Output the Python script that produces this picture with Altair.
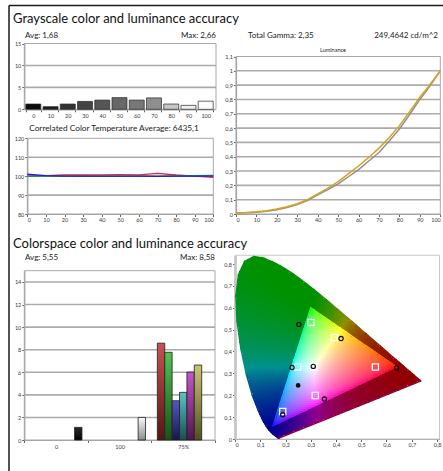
import altair as alt
import numpy as np
import pandas as pd

W, H = 443, 471
FONT = "Lato"
INK = "#222222"
GRID = "#ababab"
FRAME = "#a8a8a8"

# ---------------- Grayscale color and luminance accuracy ----------------
gray_levels = ["0", "10", "20", "30", "40", "50", "60", "70", "80", "90", "100"]
gray_delta_e = [1.2, 0.6, 1.2, 1.8, 2.1, 2.66, 2.1, 2.6, 1.2, 0.9, 1.85]
gray_shades = ["#0b0b0b", "#1e1e1e", "#323232", "#444444", "#555555", "#676767",
               "#787878", "#8e8e8e", "#c6c6c6", "#efefef", "#fbfbfb"]

cct_levels = [0, 10, 20, 30, 40, 50, 60, 70, 80, 90, 100]
cct_red = [100.0, 100.2, 100.6, 100.6, 100.7, 100.8, 100.7, 101.5, 100.6, 100.0, 99.4]
cct_green = [99.9, 100.0, 100.0, 99.9, 99.9, 99.9, 100.0, 99.9, 100.1, 100.2, 100.4]
cct_blue = [101.0, 100.3, 100.0, 100.0, 100.0, 100.0, 100.0, 99.9, 100.0, 100.0, 100.0]

lum_levels = [0, 5, 10, 15, 20, 25, 30, 35, 40, 45, 50, 55, 60, 65, 70, 75, 80, 85, 90, 95, 100]
lum_measured = [0.008, 0.010, 0.015, 0.022, 0.035, 0.050, 0.072, 0.100, 0.140, 0.180, 0.226,
                0.280, 0.335, 0.395, 0.460, 0.535, 0.617, 0.715, 0.815, 0.905, 1.000]
lum_target = [0.007, 0.008, 0.012, 0.019, 0.030, 0.045, 0.066, 0.094, 0.133, 0.170, 0.210,
              0.260, 0.310, 0.370, 0.430, 0.510, 0.594, 0.695, 0.800, 0.895, 1.000]

# ---------------- Colorspace color and luminance accuracy ----------------
cs_groups = ["0", "100", "75%"]
cs_series = ["Red", "Green", "Blue", "Cyan", "Magenta", "Yellow", "Neutral"]
cs_bar_group = ["0", "100", "75%", "75%", "75%", "75%", "75%", "75%"]
cs_bar_series = ["Neutral", "Neutral", "Red", "Green", "Blue", "Cyan", "Magenta", "Yellow"]
cs_bar_delta_e = [1.12, 2.0, 8.58, 7.77, 3.48, 4.22, 6.02, 6.64]
cs_bar_top = ["#2a2a2a", "#fafafa", "#c95252", "#52c452", "#5656c4", "#5cc4c4", "#c656cc", "#cac676"]
cs_bar_bottom = ["#000000", "#8c8c8c", "#551414", "#165216", "#16164f", "#165050", "#4f164f", "#50501c"]

# CIE 1931 2-degree spectral locus (x, y)
locus_x = [0.1741, 0.1733, 0.1726, 0.1714, 0.1689, 0.1644, 0.1566, 0.1510, 0.1440, 0.1355,
           0.1241, 0.1096, 0.0913, 0.0687, 0.0454, 0.0235, 0.0082, 0.0039, 0.0139, 0.0389,
           0.0743, 0.1142, 0.1547, 0.1929, 0.2296, 0.2658, 0.3016, 0.3373, 0.3731, 0.4087,
           0.4441, 0.4788, 0.5125, 0.5448, 0.5752, 0.6029, 0.6270, 0.6482, 0.6658, 0.6915,
           0.7079, 0.7190, 0.7260, 0.7300, 0.7334, 0.7347]
locus_y = [0.0050, 0.0048, 0.0048, 0.0051, 0.0069, 0.0109, 0.0177, 0.0227, 0.0297, 0.0399,
           0.0578, 0.0868, 0.1327, 0.2007, 0.2950, 0.4127, 0.5384, 0.6548, 0.7502, 0.8120,
           0.8338, 0.8262, 0.8059, 0.7816, 0.7543, 0.7243, 0.6923, 0.6589, 0.6245, 0.5896,
           0.5547, 0.5202, 0.4866, 0.4544, 0.4242, 0.3965, 0.3725, 0.3514, 0.3340, 0.3083,
           0.2920, 0.2809, 0.2740, 0.2700, 0.2666, 0.2653]

# sRGB gamut primaries (R, G, B) and D65 white
gamut_x = [0.64, 0.30, 0.15]
gamut_y = [0.33, 0.60, 0.06]
white_x, white_y = 0.3127, 0.3290

target_x = [0.301, 0.394, 0.248, 0.556, 0.318, 0.189, 0.3127]
target_y = [0.533, 0.464, 0.329, 0.329, 0.199, 0.126, 0.329]
measured_x = [0.253, 0.420, 0.226, 0.310, 0.640, 0.354, 0.189]
measured_y = [0.523, 0.459, 0.327, 0.332, 0.325, 0.183, 0.111]
white_point_x = [0.250]
white_point_y = [0.245]

# chromaticity plot geometry: pixels per unit of x and y
E_X0, E_KX = 235.0, 252.5
E_Y0, E_KY = 439.0, 218.75
E_XMAX, E_YMAX = 0.81, 0.84


# ---------------- chromaticity colour field ----------------
def inside_polygon(px, py, vx, vy):
    vx, vy = np.asarray(vx), np.asarray(vy)
    result = np.zeros(px.shape, dtype=bool)
    j = len(vx) - 1
    for i in range(len(vx)):
        crosses = (vy[i] > py) != (vy[j] > py)
        xint = (vx[j] - vx[i]) * (py - vy[i]) / (vy[j] - vy[i] + 1e-12) + vx[i]
        result ^= crosses & (px < xint)
        j = i
    return result


def chroma_colour(fx, fy):
    """Display colour of xy chromaticities: bright inside the sRGB gamut, dimmed outside."""
    fx, fy = np.asarray(fx, float), np.maximum(np.asarray(fy, float), 1e-4)
    X, Z = fx / fy, (1 - fx - fy) / fy
    rgb = np.stack([3.2406 * X - 1.5372 - 0.4986 * Z,
                    -0.9689 * X + 1.8758 + 0.0415 * Z,
                    0.0557 * X - 0.2040 + 1.0570 * Z], axis=1)
    outside = (rgb < -1e-6).any(axis=1)
    rgb = np.clip(rgb, 0, None)
    rgb = rgb / rgb.max(axis=1, keepdims=True)
    encoded = np.where(rgb <= 0.0031308, 12.92 * rgb, 1.055 * rgb ** (1 / 2.4) - 0.055)
    rgb = np.where(outside[:, None], rgb * 0.57, encoded)
    rgb8 = np.clip(np.round(rgb * 255), 0, 255).astype(int)
    return ["#%02x%02x%02x" % tuple(v) for v in rgb8]


def edge_segments(vx, vy, pieces, pull):
    """Split a closed outline into short segments, each coloured by the field just inside it."""
    vx, vy = list(vx) + list(vx[:1]), list(vy) + list(vy[:1])
    xs, ys = [], []
    for k in range(len(vx) - 1):
        t = np.linspace(0, 1, pieces + 1)
        xs.append(vx[k] + (vx[k + 1] - vx[k]) * t[:-1])
        ys.append(vy[k] + (vy[k + 1] - vy[k]) * t[:-1])
    xs, ys = np.concatenate(xs + [[vx[-1]]]), np.concatenate(ys + [[vy[-1]]])
    mx = (xs[:-1] + xs[1:]) / 2 * (1 - pull) + white_x * pull
    my = (ys[:-1] + ys[1:]) / 2 * (1 - pull) + white_y * pull
    return pd.DataFrame({"x": xs[:-1], "y": ys[:-1], "x2": xs[1:], "y2": ys[1:],
                         "c": chroma_colour(mx, my)})


# two-pixel cells aligned to the plot's pixel grid
DX, DY = 2 / E_KX, 2 / E_KY
gx, gy = np.meshgrid(np.arange(0, int(0.74 / DX) + 1) * DX, np.arange(0, int(0.84 / DY) + 1) * DY)
cx, cy = gx + DX / 2, gy + DY / 2
mask = inside_polygon(cx, cy, locus_x, locus_y)
field_df = pd.DataFrame({
    "x0": np.round(gx[mask], 6),
    "y0": np.round(gy[mask], 6),
    "c": chroma_colour(cx[mask], cy[mask]),
})
locus_edge_df = edge_segments(locus_x, locus_y, 1, 0.03)
gamut_edge_df = edge_segments(gamut_x, gamut_y, 40, 0.02)

# ---------------- helpers ----------------
AXIS_STYLE = dict(labelFont=FONT, labelFontSize=5.5, labelColor="#3a3a3a",
                  tickColor="#3a3a3a", tickSize=2.5, tickWidth=0.8,
                  domainColor="#a0a0a0", domainWidth=1.2, labelPadding=1,
                  labelAngle=0, grid=False, title="")
COMMA = "replace(datum.label, '.', ',')"


def bottom_axis(y_px, **kw):
    return alt.Axis(orient="bottom", offset=y_px - H, **{**AXIS_STYLE, **kw})


def left_axis(x_px, **kw):
    return alt.Axis(orient="left", offset=-x_px, **{**AXIS_STYLE, **kw})


def box_layer(xs, x_lo, x_hi, xa, ys, y_lo, y_hi, ya, grid_values,
              frame_color=FRAME, frame_width=1.0):
    """Plot frame plus horizontal grid rules, sharing the panel's scales and axes."""
    frame = alt.Chart(alt.Data(values=[{}])).mark_rect(
        fill="transparent", stroke=frame_color, strokeWidth=frame_width
    ).encode(
        x=alt.XDatum(x_lo, scale=xs, axis=xa), x2=alt.X2Datum(x_hi),
        y=alt.YDatum(y_lo, scale=ys, axis=ya), y2=alt.Y2Datum(y_hi),
    )
    if not grid_values:
        return frame
    grid = alt.Chart(pd.DataFrame({"g": grid_values})).mark_rule(
        color=GRID, strokeWidth=1.6
    ).encode(
        x=alt.XDatum(x_lo, scale=xs, axis=xa), x2=alt.X2Datum(x_hi),
        y=alt.Y("g:Q", scale=ys, axis=ya),
    )
    return alt.layer(grid, frame)


def label(text, x, y, size, align="left", color=INK):
    return alt.Chart(alt.Data(values=[{"t": text}])).mark_text(
        align=align, baseline="middle", font=FONT, fontSize=size, color=color
    ).encode(text="t:N", x=alt.value(x), y=alt.value(y))


# ---------------- grayscale dE bars ----------------
a_x = alt.Scale(domain=gray_levels, range=[24.3, 214.7], paddingInner=0.13, paddingOuter=0.087)
a_y = alt.Scale(domain=[0, 15], range=[109.3, 43.5])
a_unit = alt.Scale(domain=[0, 1], range=[24.3, 216])
a_xa = bottom_axis(109.3, tickBand="extent", labelPadding=2)
a_ya = left_axis(24.3, values=[0, 5, 10, 15])
gray_df = pd.DataFrame({"level": gray_levels, "de": gray_delta_e})
a_bars = alt.Chart(gray_df).mark_bar(stroke="#2a2a2a", strokeWidth=0.7).encode(
    x=alt.X("level:N", sort=gray_levels, scale=a_x, axis=a_xa),
    y=alt.Y("de:Q", scale=a_y, axis=a_ya),
    color=alt.Color("level:N", scale=alt.Scale(domain=gray_levels, range=gray_shades), legend=None),
)
panel_a = alt.layer(
    box_layer(a_unit, 0, 1, None, a_y, 0, 15, a_ya, [5, 10]), a_bars
).resolve_scale(x="independent")

# ---------------- correlated color temperature ----------------
b_x = alt.Scale(domain=[0, 100], range=[27.3, 213.3])
b_y = alt.Scale(domain=[80, 120], range=[214, 138.3])
b_xa = bottom_axis(214, values=cct_levels)
b_ya = left_axis(27.3, values=[80, 90, 100, 110, 120])
cct_df = pd.DataFrame({"level": cct_levels, "red": cct_red, "green": cct_green, "blue": cct_blue})
b_lines = [
    alt.Chart(cct_df).mark_line(color=colour, strokeWidth=1.3).encode(
        x=alt.X("level:Q", scale=b_x, axis=b_xa),
        y=alt.Y(f"{col}:Q", scale=b_y, axis=b_ya),
    )
    for col, colour in [("red", "#f0202a"), ("green", "#1f9a35"), ("blue", "#1420e8")]
]
panel_b = alt.layer(box_layer(b_x, 0, 100, b_xa, b_y, 80, 120, b_ya, [90, 100, 110]), *b_lines)

# ---------------- luminance curve ----------------
c_x = alt.Scale(domain=[0, 100], range=[236, 440.3])
c_y = alt.Scale(domain=[0, 1.1], range=[214, 56.5])
c_ticks = [0, 0.1, 0.2, 0.3, 0.4, 0.5, 0.6, 0.7, 0.8, 0.9, 1.0, 1.1]
c_xa = bottom_axis(214, values=cct_levels)
c_ya = left_axis(236, values=c_ticks, format=".1~f", labelExpr=COMMA)
lum_df = pd.DataFrame({"level": lum_levels, "measured": lum_measured, "target": lum_target})
c_target = alt.Chart(lum_df).mark_line(color="#8e8e8e", strokeWidth=1.4).encode(
    x=alt.X("level:Q", scale=c_x, axis=c_xa),
    y=alt.Y("target:Q", scale=c_y, axis=c_ya),
)
c_measured = alt.Chart(lum_df).mark_line(color="#d9a21c", strokeWidth=1.5).encode(
    x=alt.X("level:Q", scale=c_x, axis=c_xa),
    y=alt.Y("measured:Q", scale=c_y, axis=c_ya),
)
panel_c = alt.layer(
    box_layer(c_x, 0, 100, c_xa, c_y, 0, 1.1, c_ya, c_ticks[1:-1]), c_target, c_measured
)

# ---------------- colorspace dE bars ----------------
d_x = alt.Scale(domain=cs_groups, range=[24.3, 215], paddingInner=0, paddingOuter=0)
d_off = alt.Scale(domain=cs_series, paddingInner=0, paddingOuter=0.8)
d_y = alt.Scale(domain=[0, 15], range=[440, 270.7])
d_unit = alt.Scale(domain=[0, 1], range=[24.3, 215])
d_xa = bottom_axis(440, tickBand="extent", labelPadding=2)
d_ya = left_axis(24.3, values=[0, 2, 4, 6, 8, 10, 12, 14])
d_bars = []
for i in range(len(cs_bar_delta_e)):
    row = pd.DataFrame({"group": [cs_bar_group[i]], "series": [cs_bar_series[i]],
                        "de": [cs_bar_delta_e[i]]})
    shade = alt.LinearGradient(
        gradient="linear", x1=0, x2=0, y1=0, y2=1,
        stops=[alt.GradientStop(color=cs_bar_top[i], offset=0),
               alt.GradientStop(color=cs_bar_bottom[i], offset=1)],
    )
    d_bars.append(alt.Chart(row).mark_bar(fill=shade, stroke="#1e1e1e", strokeWidth=0.8).encode(
        x=alt.X("group:N", sort=cs_groups, scale=d_x, axis=d_xa),
        xOffset=alt.XOffset("series:N", scale=d_off),
        y=alt.Y("de:Q", scale=d_y, axis=d_ya),
    ))
panel_d = alt.layer(
    box_layer(d_unit, 0, 1, None, d_y, 0, 15, d_ya, [2, 4, 6, 8, 10, 12, 14]),
    alt.layer(*d_bars),
).resolve_scale(x="independent")

# ---------------- CIE xy chromaticity diagram ----------------
e_x = alt.Scale(domain=[0, E_XMAX], range=[E_X0, E_X0 + E_XMAX * E_KX])
e_y = alt.Scale(domain=[0, E_YMAX], range=[E_Y0, E_Y0 - E_YMAX * E_KY])
e_ticks = [0, 0.1, 0.2, 0.3, 0.4, 0.5, 0.6, 0.7, 0.8]
e_xa = bottom_axis(E_Y0, values=e_ticks, format=".1~f", labelExpr=COMMA)
e_ya = left_axis(E_X0, values=e_ticks, format=".1~f", labelExpr=COMMA,
                 domainColor="#c4c4c4", domainWidth=2.6)
e_field = alt.Chart(field_df).transform_calculate(
    x1=f"datum.x0 + {DX * 1.05}", y1=f"datum.y0 + {DY * 1.05}"
).mark_rect(strokeWidth=0).encode(
    x=alt.X("x0:Q", scale=e_x, axis=e_xa),
    x2="x1:Q",
    y=alt.Y("y0:Q", scale=e_y, axis=e_ya),
    y2="y1:Q",
    color=alt.Color("c:N", scale=None),
)


def edge_rules(df, width):
    return alt.Chart(df).mark_rule(strokeWidth=width, strokeCap="round").encode(
        x=alt.X("x:Q", scale=e_x, axis=e_xa), x2="x2:Q",
        y=alt.Y("y:Q", scale=e_y, axis=e_ya), y2="y2:Q",
        color=alt.Color("c:N", scale=None),
    )


def cie_points(xs, ys, **mark):
    return alt.Chart(pd.DataFrame({"x": xs, "y": ys})).mark_point(opacity=1, **mark).encode(
        x=alt.X("x:Q", scale=e_x, axis=e_xa), y=alt.Y("y:Q", scale=e_y, axis=e_ya))


e_targets = cie_points(target_x, target_y, shape="square", size=38, filled=False,
                       color="white", strokeWidth=1.3)
e_measured = cie_points(measured_x, measured_y, shape="circle", size=18, filled=False,
                        color="#111111", strokeWidth=1.2)
e_white = cie_points(white_point_x, white_point_y, shape="circle", size=22, filled=True,
                     color="#111111")
panel_e = alt.layer(
    box_layer(e_x, 0, E_XMAX, e_xa, e_y, 0, E_YMAX, e_ya, [], frame_color="#c8c8c8"),
    e_field, edge_rules(locus_edge_df, 1.6), edge_rules(gamut_edge_df, 1.3),
    e_targets, e_measured, e_white,
)

# ---------------- page frame and captions ----------------
blank = alt.Data(values=[{}])
frame_top = alt.Chart(blank).mark_rule(color="#1a1a1a", strokeWidth=1.5).encode(
    x=alt.value(9), x2=alt.value(W), y=alt.value(5.5))
frame_left = alt.Chart(blank).mark_rule(color="#1a1a1a", strokeWidth=1.5).encode(
    x=alt.value(9), y=alt.value(5.5), y2=alt.value(H))

captions = [
    label("Grayscale color and luminance accuracy", 13, 18.5, 13, color="#111111"),
    label("Avg: 1,68", 25, 36, 8),
    label("Max: 2,66", 216, 36, 8, align="right"),
    label("Correlated Color Temperature Average: 6435,1", 114, 129, 8.3, align="center"),
    label("Total Gamma: 2,35", 248, 36, 8),
    label("249,4642 cd/m^2", 438, 36, 8, align="right"),
    label("Luminance", 333, 49.5, 5.5, align="center"),
    label("Colorspace color and luminance accuracy", 13, 243.5, 13, color="#111111"),
    label("Avg: 5,55", 25, 258, 8),
    label("Max: 8,58", 215, 258, 8, align="right"),
]

chart = alt.layer(
    frame_top, frame_left, panel_a, panel_b, panel_c, panel_d, panel_e, *captions
).resolve_scale(
    x="independent", y="independent", color="independent"
).properties(
    width=W, height=H, padding=0, autosize=alt.AutoSizeParams(type="none"),
    background="white",
).configure_view(strokeWidth=0)

chart.save("out.html", embed_options={"renderer": "svg", "actions": False})
